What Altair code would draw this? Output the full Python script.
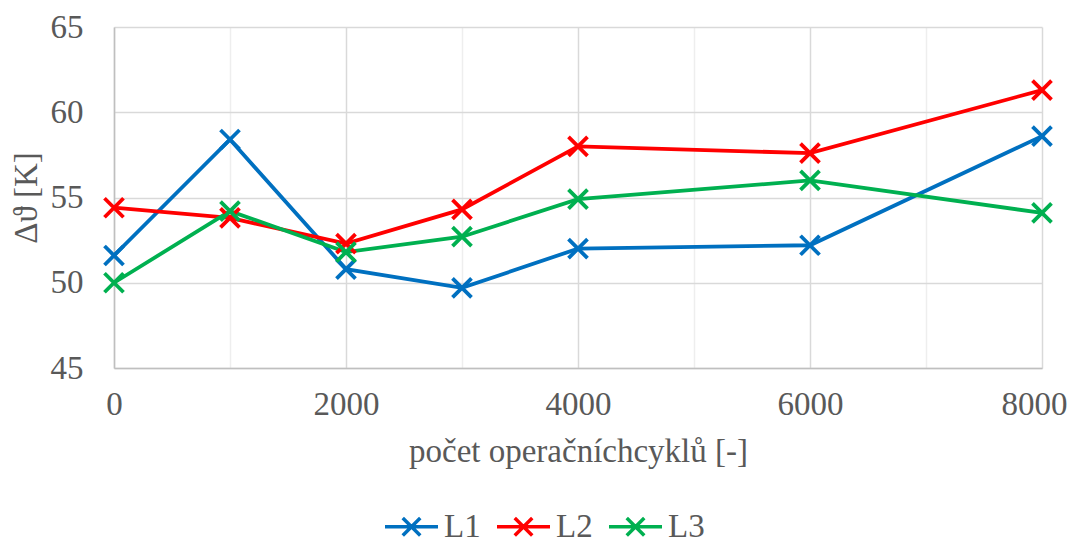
import altair as alt
import pandas as pd

cycles = [0, 1000, 2000, 3000, 4000, 6000, 8000]
L1 = [51.6, 58.4, 50.8, 49.7, 52.0, 52.2, 58.6]
L2 = [54.4, 53.8, 52.3, 54.3, 58.0, 57.6, 61.3]
L3 = [50.0, 54.2, 51.8, 52.7, 54.9, 56.0, 54.1]
series = ["L1", "L2", "L3"]
colors = ["#0070C0", "#FF0000", "#00B050"]

rows = []
for name, vals in zip(series, [L1, L2, L3]):
    for c, v in zip(cycles, vals):
        rows.append({"cycles": c, "value": v, "series": name})
df = pd.DataFrame(rows)

FONT = "Liberation Serif"
GREY = "#595959"
FS = 33
CROSS = "M-1,-1L1,1M-1,1L1,-1"
LEG_SYM = "M-1,0L1,0M-0.33,-0.33L0.33,0.33M-0.33,0.33L0.33,-0.33"

x = alt.X(
    "cycles:Q",
    title="počet operačníchcyklů [-]",
    scale=alt.Scale(domain=[0, 8000], nice=False),
    axis=alt.Axis(
        values=list(range(0, 8001, 1000)),
        labelExpr="datum.value % 2000 === 0 ? datum.label : ''",
        format="d",
        ticks=False,
        labelFlush=False,
        labelOffset={"condition": {"test": "datum.value === 8000", "value": -8}, "value": 0},
        labelPadding=20,
        titlePadding=14,
        labelFont=FONT, labelFontSize=FS, labelColor=GREY,
        titleFont=FONT, titleFontSize=FS, titleColor=GREY, titleFontWeight="normal",
        gridColor={"condition": {"test": "datum.value % 2000 === 0", "value": "#d9d9d9"}, "value": "#eeeeee"},
    ),
)
y = alt.Y(
    "value:Q",
    title="Δϑ [K]",
    scale=alt.Scale(domain=[45, 65], nice=False),
    axis=alt.Axis(
        values=[45, 50, 55, 60, 65], ticks=False, labelPadding=31, titlePadding=7,
        labelFont=FONT, labelFontSize=FS, labelColor=GREY,
        titleFont=FONT, titleFontSize=FS, titleColor=GREY, titleFontWeight="normal",
    ),
)
color = alt.Color(
    "series:N",
    scale=alt.Scale(domain=series, range=colors),
    legend=alt.Legend(
        title=None,
        orient="none",
        direction="horizontal",
        legendX=269,
        legendY=471,
        symbolType=LEG_SYM,
        symbolSize=2809,
        symbolStrokeWidth=3.5,
        symbolFillColor="transparent",
        labelFont=FONT,
        labelFontSize=FS,
        labelColor=GREY,
        labelOffset=4,
        columnPadding=9,
    ),
)

base = alt.Chart(df).encode(x=x, y=y, color=color)
lines = base.mark_line(strokeWidth=3.8)
points = base.mark_point(shape=CROSS, size=361, strokeWidth=3.8, filled=False, opacity=1)

chart = (
    alt.layer(lines, points)
    .properties(
        width=928,
        height=341,
        autosize=alt.AutoSizeParams(type="none"),
        padding={"left": 106, "top": 19, "right": 27, "bottom": 190},
    )
    .configure_view(stroke=None)
    .configure_axis(
        domainColor="#bfbfbf",
        domainWidth=1.5,
        gridColor="#d9d9d9",
        gridWidth=1.5,
    )
)

chart.save("out.html", embed_options={"renderer": "svg", "actions": False})
